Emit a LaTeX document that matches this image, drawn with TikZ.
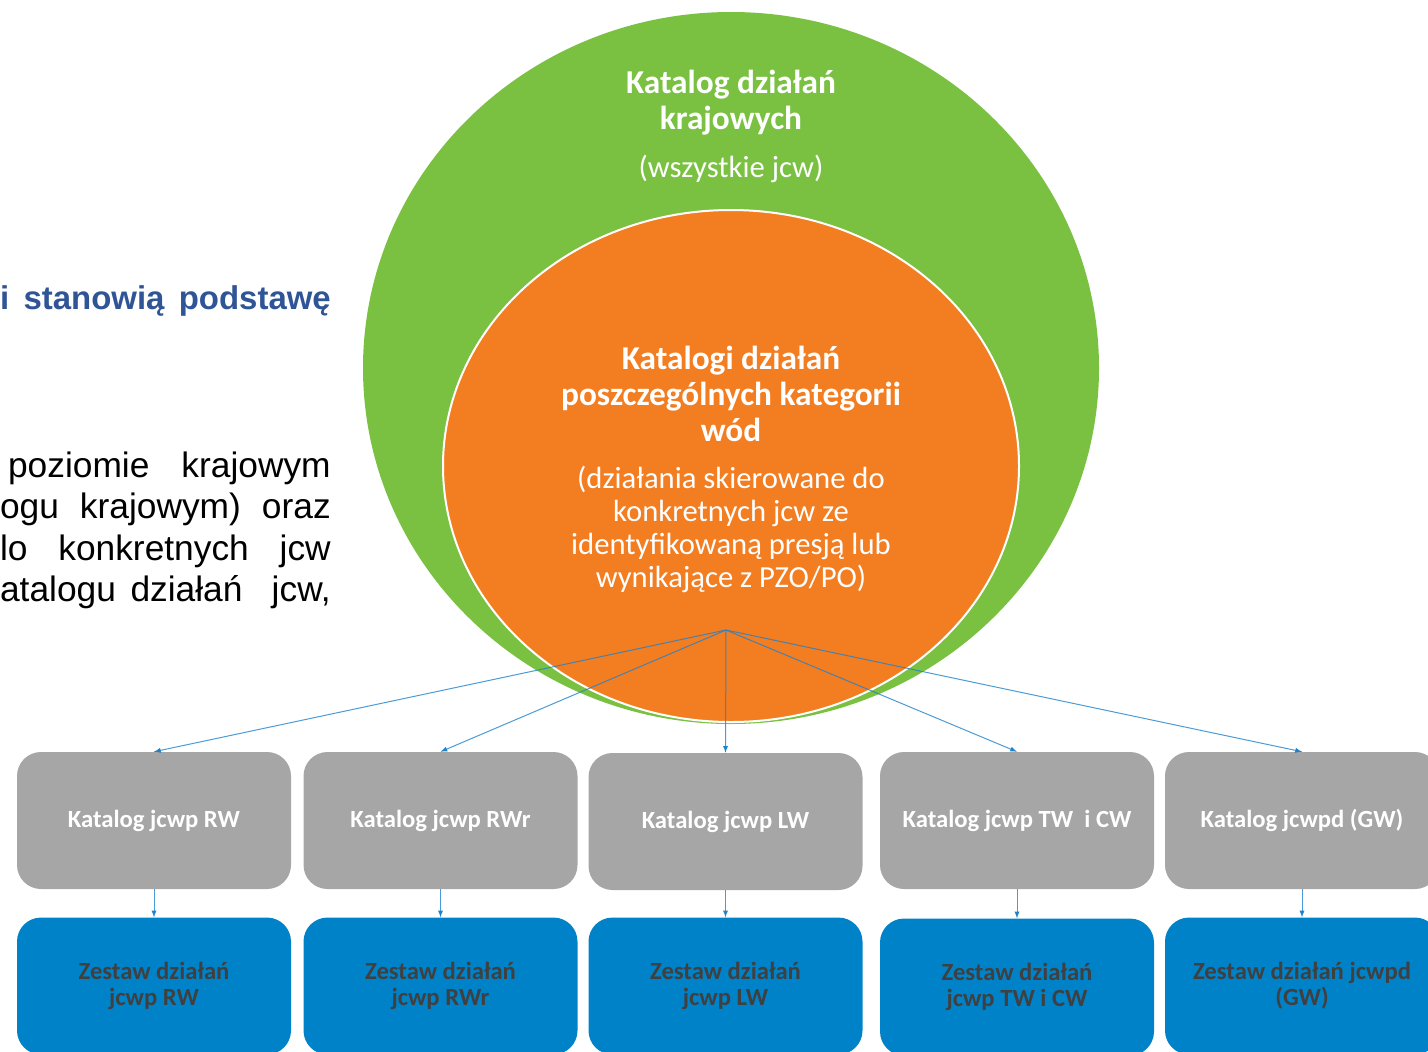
\documentclass[tikz,border=0pt]{standalone}
\usepackage{fontspec}
\setmainfont{Carlito}
\newfontfamily\pagefont{Liberation Sans}
\usetikzlibrary{positioning}

\definecolor{kraj}{RGB}{122,193,66}
\definecolor{kat}{RGB}{243,125,33}
\definecolor{szary}{RGB}{166,166,166}
\definecolor{zestaw}{RGB}{0,130,200}
\definecolor{ciemny}{RGB}{64,64,64}
\definecolor{naglowek}{RGB}{47,85,151}
\definecolor{strzalka}{RGB}{30,130,205}

\begin{document}
\begin{tikzpicture}[x=0.75pt,y=-0.75pt,>=latex,
    katbox/.style={rounded corners=18pt,fill=szary,text=white,
        minimum width=205.5pt,minimum height=102.75pt,inner sep=0pt,
        align=center,font=\bfseries\fontsize{18.5}{19.5}\selectfont},
    zestawbox/.style={katbox,fill=zestaw,text=ciemny},
    link/.style={->,draw=strzalka,draw opacity=.8,line width=.75pt},
    tytul/.style={align=center,text=white,font=\bfseries\fontsize{25}{27}\selectfont},
    opis/.style={align=center,text=white,font=\fontsize{23}{24.75}\selectfont},
    akapit/.style={anchor=base east,inner sep=0pt,font=\pagefont\fontsize{26.5}{31}\selectfont}]
    \useasboundingbox (0,0) rectangle (1428,1051);

    % fragment tekstu z lewej strony
    \node [akapit,text=naglowek,font=\pagefont\bfseries\fontsize{24.7}{30}\selectfont] (t0) at (331,309)
        {\makebox[248pt][s]{i\ \ stanowią\ \ podstawę}};
    \node [akapit] (t1) at (331,477) {\makebox[242pt][s]{poziomie\ \ \ krajowym}};
    \node [akapit] (t2) at (331,518) {\makebox[248pt][s]{ogu\ \ krajowym)\ \ oraz}};
    \node [akapit] (t3) at (331,560) {\makebox[248pt][s]{lo\ \ \ konkretnych\ \ \ jcw}};
    \node [akapit] (t4) at (331,601) {\makebox[248pt][s]{atalogu działań\ \ jcw,}};

    % katalogi
    \fill [kraj] (731,368) ellipse [x radius=368, y radius=356];
    \filldraw [fill=kat,draw=white,line width=1.5pt] (731,466) ellipse [x radius=288, y radius=256];

    \node [tytul] (krajowy) at (731,103) {Katalog działań\\krajowych};
    \node [opis] (wszystkie) at (731,169) {(wszystkie jcw)};
    \node [tytul] (kategorie) at (731,394) {Katalogi działań\\poszczególnych kategorii\\wód};
    \node [opis] (konkretne) at (731,529)
        {(działania skierowane do\\konkretnych jcw ze\\identyfikowaną presją lub\\wynikające z PZO/PO)};

    \coordinate (hub) at (726,630);

    % katalogi jcwp
    \node [katbox] (rw)  at (154,820.5)  {Katalog jcwp RW};
    \node [katbox] (rwr) at (440.5,820.5) {Katalog jcwp RWr};
    \node [katbox] (lw)  at (725.5,821.5) {Katalog jcwp LW};
    \node [katbox] (tw)  at (1017,820.5) {Katalog jcwp TW\ \ i CW};
    \node [katbox] (gw)  at (1302,820.5) {Katalog jcwpd (GW)};

    % zestawy dzialan
    \node [zestawbox,below=21pt of rw]  (zrw)  {Zestaw działań\\jcwp RW};
    \node [zestawbox,below=21pt of rwr] (zrwr) {Zestaw działań\\jcwp RWr};
    \node [zestawbox,below=20.25pt of lw]  (zlw)  {Zestaw działań\\jcwp LW};
    \node [zestawbox,below=21.75pt of tw]  (ztw)  {Zestaw działań\\jcwp TW i CW};
    \node [zestawbox,below=21pt of gw]  (zgw)  {Zestaw działań jcwpd\\(GW)};

    \foreach \k in {rw,rwr,lw,tw,gw}
        \draw [link] (hub) -- (\k.north);
    \foreach \k in {rw,rwr,lw,tw,gw}
        \draw [link] (\k) -- (z\k);
\end{tikzpicture}
\end{document}
